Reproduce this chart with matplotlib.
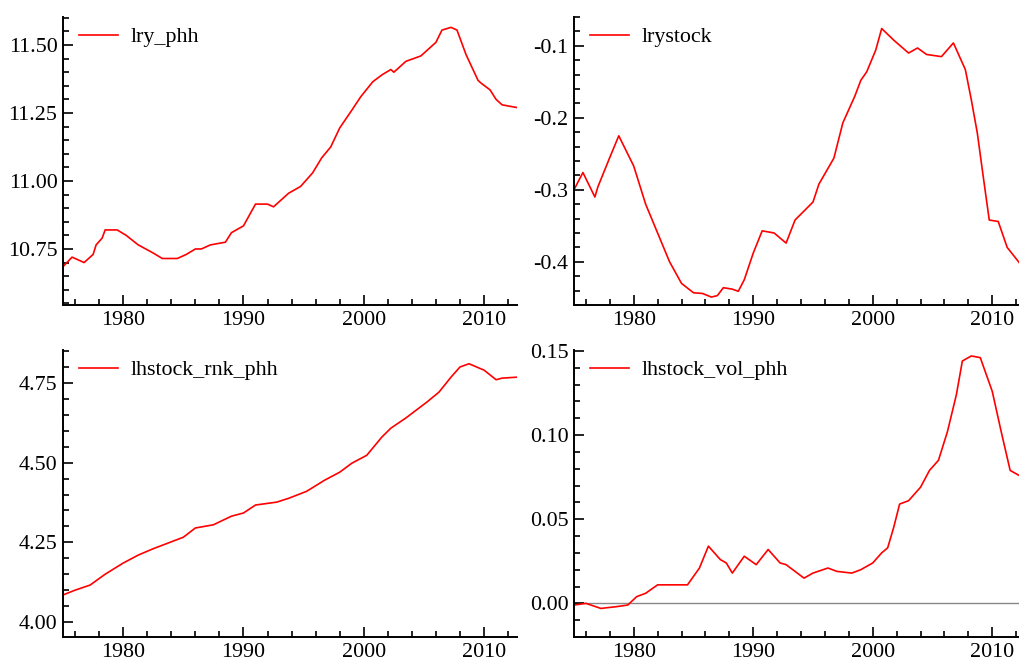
import numpy as np
import matplotlib
matplotlib.use("Agg")
import matplotlib.pyplot as plt
from matplotlib.ticker import MultipleLocator, FormatStrFormatter

plt.rcParams['font.family'] = ['Liberation Serif', 'DejaVu Serif']

# quarterly series (year, value)
lry_years = [1975.0, 1975.75, 1976.25, 1976.75, 1977.5, 1977.75, 1978.25, 1978.5, 1979.5,
             1980.25, 1981.25, 1982.5, 1983.25, 1984.5, 1985.25, 1986.0, 1986.5, 1987.25,
             1988.5, 1989.0, 1990.0, 1991.0, 1992.0, 1992.5, 1993.75, 1994.75, 1995.75,
             1996.5, 1997.25, 1998.0, 1999.0, 1999.75, 2000.75, 2001.5, 2002.25, 2002.5,
             2003.5, 2004.75, 2006.0, 2006.5, 2007.25, 2007.75, 2008.5, 2009.5, 2009.75,
             2010.5, 2011.0, 2011.5, 2012.75]
lry_phh = [10.685, 10.72, 10.71, 10.70, 10.73, 10.765, 10.79, 10.82, 10.82,
           10.80, 10.765, 10.735, 10.715, 10.715, 10.73, 10.75, 10.75, 10.765,
           10.775, 10.81, 10.835, 10.915, 10.915, 10.905, 10.955, 10.98, 11.03,
           11.085, 11.125, 11.195, 11.26, 11.31, 11.365, 11.39, 11.41, 11.40,
           11.44, 11.46, 11.51, 11.555, 11.565, 11.555, 11.465, 11.37, 11.36,
           11.335, 11.30, 11.28, 11.27]

stock_years = [1975.0, 1975.75, 1976.75, 1977.0, 1978.0, 1978.75, 1980.0, 1981.0, 1982.25,
               1983.0, 1984.0, 1985.0, 1985.75, 1986.5, 1987.0, 1987.5, 1988.25, 1988.75,
               1989.25, 1990.0, 1990.75, 1991.75, 1992.75, 1993.5, 1995.0, 1995.5, 1996.75,
               1997.5, 1998.5, 1999.0, 1999.5, 2000.25, 2000.75, 2001.75, 2003.0, 2003.75,
               2004.5, 2005.75, 2006.75, 2007.75, 2008.25, 2008.75, 2009.25, 2009.75,
               2010.5, 2011.25, 2012.25, 2012.75]
lrystock = [-0.300, -0.276, -0.310, -0.296, -0.255, -0.225, -0.267, -0.320, -0.370,
            -0.400, -0.430, -0.443, -0.444, -0.449, -0.447, -0.436, -0.438, -0.441,
            -0.425, -0.388, -0.357, -0.360, -0.374, -0.342, -0.317, -0.292, -0.256,
            -0.207, -0.170, -0.148, -0.136, -0.106, -0.076, -0.092, -0.110, -0.103,
            -0.112, -0.115, -0.096, -0.133, -0.175, -0.221, -0.282, -0.342,
            -0.344, -0.380, -0.401, -0.415]

rnk_years = [1975.0, 1976.0, 1977.25, 1978.5, 1980.0, 1981.25, 1982.5, 1983.75, 1985.0,
             1986.0, 1987.5, 1989.0, 1990.0, 1991.0, 1992.75, 1993.75, 1995.25, 1996.75,
             1998.0, 1999.0, 2000.25, 2001.5, 2002.25, 2003.5, 2005.25, 2006.25, 2007.25,
             2008.0, 2008.75, 2010.0, 2011.0, 2011.5, 2012.75]
lhstock_rnk_phh = [4.085, 4.10, 4.116, 4.15, 4.185, 4.21, 4.23, 4.248, 4.266,
                   4.295, 4.305, 4.332, 4.342, 4.367, 4.376, 4.388, 4.41, 4.445,
                   4.47, 4.498, 4.523, 4.58, 4.608, 4.64, 4.69, 4.721, 4.768,
                   4.80, 4.81, 4.79, 4.76, 4.765, 4.768]

vol_years = [1975.0, 1976.0, 1977.25, 1978.5, 1979.5, 1980.25, 1981.0, 1982.0, 1983.25,
             1984.5, 1985.5, 1986.25, 1987.25, 1987.75, 1988.25, 1989.25, 1990.25, 1991.25,
             1992.25, 1992.75, 1993.5, 1994.25, 1995.0, 1996.25, 1997.0, 1998.25, 1999.0,
             2000.0, 2000.75, 2001.25, 2001.75, 2002.25, 2003.0, 2004.0, 2004.75, 2005.5,
             2006.25, 2007.0, 2007.5, 2008.25, 2009.0, 2010.0, 2010.75, 2011.5, 2012.25,
             2012.75]
lhstock_vol_phh = [-0.001, 0.000, -0.003, -0.002, -0.001, 0.004, 0.006, 0.011, 0.011,
                   0.011, 0.021, 0.034, 0.026, 0.024, 0.018, 0.028, 0.023, 0.032,
                   0.024, 0.023, 0.019, 0.015, 0.018, 0.021, 0.019, 0.018, 0.020,
                   0.024, 0.030, 0.033, 0.045, 0.059, 0.061, 0.069, 0.079, 0.085,
                   0.102, 0.124, 0.144, 0.147, 0.146, 0.126, 0.102, 0.079, 0.076,
                   0.075]

fig = plt.figure(figsize=(10.2, 6.6), dpi=100)

def panel(rect, x, y, name, ylim, major, minor, fmt):
    ax = fig.add_axes(rect)
    ax.plot(x, y, color='red', lw=1.2, label=name)
    ax.set_xlim(1975, 2012.75)
    ax.set_ylim(*ylim)
    ax.xaxis.set_major_locator(MultipleLocator(10))
    ax.xaxis.set_minor_locator(MultipleLocator(2))
    ax.yaxis.set_major_locator(MultipleLocator(major))
    ax.yaxis.set_minor_locator(MultipleLocator(minor))
    ax.yaxis.set_major_formatter(FormatStrFormatter(fmt))
    for s in ['top', 'right']:
        ax.spines[s].set_visible(False)
    for s in ['left', 'bottom']:
        ax.spines[s].set_linewidth(1.4)
    ax.tick_params(which='both', direction='in', labelsize=15.8, width=1.2, pad=4)
    ax.tick_params(which='major', length=7)
    ax.tick_params(which='minor', length=4)
    ax.legend(loc='center left', bbox_to_anchor=(0.035, 0.93), frameon=False,
              fontsize=15.8, handlelength=1.8, handletextpad=0.55,
              borderpad=0, borderaxespad=0)
    return ax

panel([0.0618, 0.5379, 0.4452, 0.4363], lry_years, lry_phh, 'lry_phh',
      (10.544, 11.603), 0.25, 0.05, '%.2f')
panel([0.5627, 0.5379, 0.4423, 0.4363], stock_years, lrystock, 'lrystock',
      (-0.46, -0.06), 0.1, 0.02, '%.1f')
panel([0.0618, 0.0348, 0.4452, 0.4348], rnk_years, lhstock_rnk_phh, 'lhstock_rnk_phh',
      (3.953, 4.853), 0.25, 0.05, '%.2f')
ax4 = panel([0.5627, 0.0348, 0.4423, 0.4348], vol_years, lhstock_vol_phh, 'lhstock_vol_phh',
            (-0.020, 0.1505), 0.05, 0.01, '%.2f')
ax4.axhline(0, color='#888888', lw=1.0, zorder=1)

fig.savefig('out.png', dpi=100)
